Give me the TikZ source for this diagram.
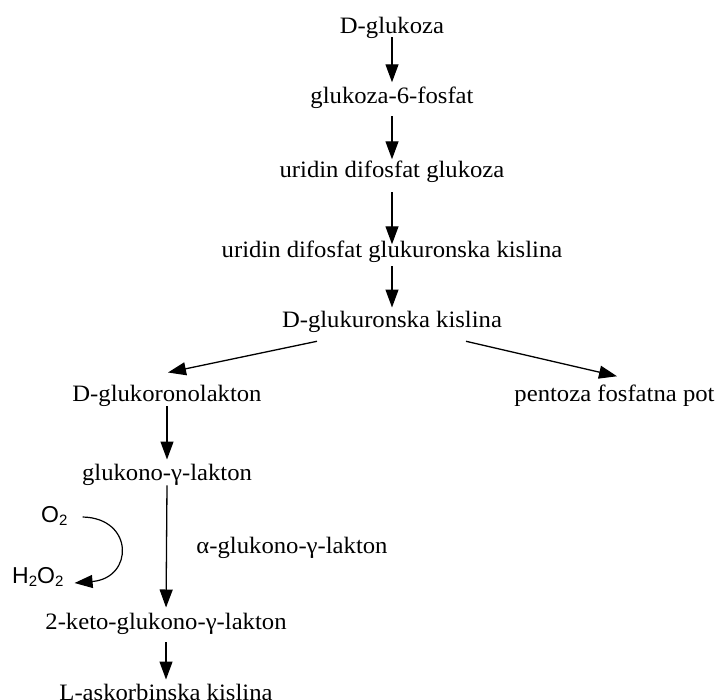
\documentclass[tikz,border=0pt]{standalone}
\usepackage{fontspec}
\setmainfont{Liberation Serif}[FakeStretch=1.05]
\newfontfamily\chemfont{Liberation Sans}
\usetikzlibrary{arrows.meta}
\newcommand\chsub{\raisebox{-3.5pt}{\fontsize{15}{15}\selectfont 2}}
\begin{document}
\begin{tikzpicture}[x=1pt,y=-1pt,
  lbl/.style={inner sep=0pt, anchor=base, font=\fontsize{23.5}{28}\selectfont},
  chem/.style={inner sep=0pt, anchor=base west, font=\chemfont\fontsize{23}{28}\selectfont},
  arr/.style={line width=1.3pt, -{Triangle[length=18pt,width=13pt]}}]
\useasboundingbox[fill=white] (0,0) rectangle (719,699);
% main chain
\node[lbl] (dg)   at (392,33.5) {D-glukoza};
\node[lbl] (g6f)  at (392,103)  {glukoza-6-fosfat};
\node[lbl] (udg)  at (392,177)  {uridin difosfat glukoza};
\node[lbl] (udgk) at (392,257)  {uridin difosfat glukuronska kislina};
\node[lbl] (glr)  at (392,327)  {D-glukuronska kislina};
\node[lbl] (lakt) at (167,401)  {D-glukoronolakton};
\node[lbl] (pent) at (614.5,401) {pentoza fosfatna pot};
\node[lbl] (gg)   at (167,480)  {glukono-γ-lakton};
\node[lbl] (agg)  at (292,553)  {α-glukono-γ-lakton};
\node[lbl] (keto) at (166,629)  {2-keto-glukono-γ-lakton};
\node[lbl] (asc)  at (166,700)  {L-askorbinska kislina};
\node[chem] (o2)  at (41,522)   {O\chsub};
\node[chem] (h2o2) at (12,583)  {H\chsub O\chsub};
% arrows
\draw[arr, shorten <=-1.6pt, shorten >=4pt] (dg.south) -- (g6f.north);
\draw[arr, shorten <=7.9pt, shorten >=1pt] (g6f.south) -- (udg.north);
\draw[arr, shorten <=9.9pt, shorten >=-4pt] (udg.south) -- (udgk.north);
\draw[arr, shorten <=3.9pt, shorten >=3pt] (udgk.south) -- (glr.north);
\draw[arr] ([xshift=-75pt,yshift=-9pt]glr.south) -- ([xshift=1pt,yshift=12pt]lakt.north);
\draw[arr] ([xshift=74pt,yshift=-9pt]glr.south) -- ([xshift=2.5pt,yshift=8pt]pent.north);
\draw[arr, shorten >=4pt] (lakt.south) -- (gg.north);
\draw[arr, shorten >=5pt] (gg.south) -- (keto.north);
\draw[arr, shorten <=8pt, shorten >=4pt] (keto.south) -- (asc.north);
\draw[arr, line width=1.2pt] ([xshift=15pt,yshift=5pt]o2.base east)
  .. controls (134,518) and (134,578) .. ([xshift=11pt]h2o2.base east);
\end{tikzpicture}
\end{document}
